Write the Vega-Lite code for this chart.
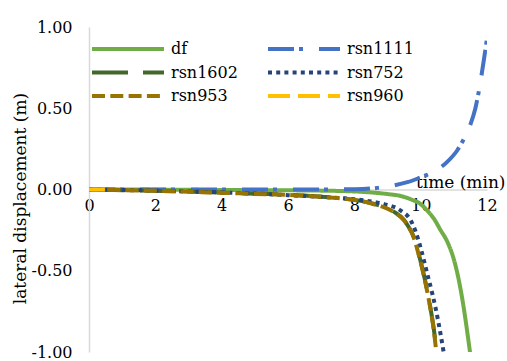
{
  "$schema": "https://vega.github.io/schema/vega-lite/v6.json",
  "width": 398,
  "height": 325,
  "autosize": {"type": "none"},
  "padding": {"left": 89, "top": 27, "right": 20, "bottom": 9},
  "background": "white",
  "config": {
    "view": {"stroke": null},
    "axis": {"labelFont": "DejaVu Serif", "titleFont": "DejaVu Serif", "labelColor": "black", "titleColor": "black", "titleFontWeight": "normal", "labelFontSize": 16, "titleFontSize": 17, "grid": false, "ticks": false, "tickSize": 0, "domainColor": "#D9D9D9", "domainWidth": 1.5},
    "legend": {"labelFont": "DejaVu Serif", "labelFontSize": 16, "labelColor": "black"}
  },
  "data": {"values": [
    {"s":"df","t":0,"v":0},{"s":"df","t":1,"v":0},{"s":"df","t":2,"v":-0.001},{"s":"df","t":3,"v":-0.002},{"s":"df","t":4,"v":-0.003},{"s":"df","t":5,"v":-0.004},{"s":"df","t":6,"v":-0.005},{"s":"df","t":7,"v":-0.007},{"s":"df","t":8,"v":-0.012},{"s":"df","t":8.5,"v":-0.018},{"s":"df","t":9,"v":-0.028},{"s":"df","t":9.4,"v":-0.04},{"s":"df","t":9.7,"v":-0.06},{"s":"df","t":10,"v":-0.09},{"s":"df","t":10.2,"v":-0.13},{"s":"df","t":10.4,"v":-0.18},{"s":"df","t":10.6,"v":-0.25},{"s":"df","t":10.8,"v":-0.32},{"s":"df","t":11,"v":-0.43},{"s":"df","t":11.1,"v":-0.51},{"s":"df","t":11.2,"v":-0.61},{"s":"df","t":11.3,"v":-0.73},{"s":"df","t":11.4,"v":-0.87},{"s":"df","t":11.5,"v":-1.02},
    {"s":"rsn1111","t":0,"v":0},{"s":"rsn1111","t":2,"v":0},{"s":"rsn1111","t":4,"v":0},{"s":"rsn1111","t":6,"v":0},{"s":"rsn1111","t":7,"v":0},{"s":"rsn1111","t":8,"v":0.002},{"s":"rsn1111","t":8.7,"v":0.01},{"s":"rsn1111","t":9.2,"v":0.025},{"s":"rsn1111","t":9.6,"v":0.045},{"s":"rsn1111","t":10,"v":0.075},{"s":"rsn1111","t":10.4,"v":0.11},{"s":"rsn1111","t":10.8,"v":0.17},{"s":"rsn1111","t":11.1,"v":0.24},{"s":"rsn1111","t":11.3,"v":0.31},{"s":"rsn1111","t":11.5,"v":0.4},{"s":"rsn1111","t":11.65,"v":0.5},{"s":"rsn1111","t":11.8,"v":0.66},{"s":"rsn1111","t":11.9,"v":0.79},{"s":"rsn1111","t":12,"v":0.93},
    {"s":"rsn1602","t":0,"v":0},{"s":"rsn1602","t":1,"v":-0.004},{"s":"rsn1602","t":2,"v":-0.008},{"s":"rsn1602","t":3,"v":-0.013},{"s":"rsn1602","t":4,"v":-0.019},{"s":"rsn1602","t":5,"v":-0.026},{"s":"rsn1602","t":6,"v":-0.032},{"s":"rsn1602","t":7,"v":-0.044},{"s":"rsn1602","t":7.5,"v":-0.051},{"s":"rsn1602","t":8,"v":-0.064},{"s":"rsn1602","t":8.5,"v":-0.084},{"s":"rsn1602","t":8.9,"v":-0.108},{"s":"rsn1602","t":9.2,"v":-0.138},{"s":"rsn1602","t":9.5,"v":-0.188},{"s":"rsn1602","t":9.6,"v":-0.218},{"s":"rsn1602","t":9.8,"v":-0.297},{"s":"rsn1602","t":9.9,"v":-0.366},{"s":"rsn1602","t":10.05,"v":-0.485},{"s":"rsn1602","t":10.2,"v":-0.625},{"s":"rsn1602","t":10.3,"v":-0.735},{"s":"rsn1602","t":10.4,"v":-0.865},{"s":"rsn1602","t":10.48,"v":-1.0},
    {"s":"rsn752","t":0,"v":0},{"s":"rsn752","t":1,"v":-0.003},{"s":"rsn752","t":2,"v":-0.007},{"s":"rsn752","t":3,"v":-0.012},{"s":"rsn752","t":4,"v":-0.018},{"s":"rsn752","t":5,"v":-0.025},{"s":"rsn752","t":6,"v":-0.035},{"s":"rsn752","t":7,"v":-0.045},{"s":"rsn752","t":8,"v":-0.06},{"s":"rsn752","t":8.4,"v":-0.07},{"s":"rsn752","t":8.9,"v":-0.09},{"s":"rsn752","t":9.4,"v":-0.13},{"s":"rsn752","t":9.7,"v":-0.19},{"s":"rsn752","t":9.85,"v":-0.26},{"s":"rsn752","t":10,"v":-0.36},{"s":"rsn752","t":10.2,"v":-0.52},{"s":"rsn752","t":10.35,"v":-0.64},{"s":"rsn752","t":10.45,"v":-0.73},{"s":"rsn752","t":10.6,"v":-0.89},{"s":"rsn752","t":10.7,"v":-1.01},
    {"s":"rsn953","t":0,"v":0},{"s":"rsn953","t":1,"v":-0.004},{"s":"rsn953","t":2,"v":-0.008},{"s":"rsn953","t":3,"v":-0.014},{"s":"rsn953","t":4,"v":-0.02},{"s":"rsn953","t":5,"v":-0.027},{"s":"rsn953","t":6,"v":-0.033},{"s":"rsn953","t":7,"v":-0.045},{"s":"rsn953","t":7.5,"v":-0.052},{"s":"rsn953","t":8,"v":-0.065},{"s":"rsn953","t":8.5,"v":-0.085},{"s":"rsn953","t":8.9,"v":-0.11},{"s":"rsn953","t":9.2,"v":-0.14},{"s":"rsn953","t":9.5,"v":-0.19},{"s":"rsn953","t":9.6,"v":-0.22},{"s":"rsn953","t":9.8,"v":-0.3},{"s":"rsn953","t":9.9,"v":-0.37},{"s":"rsn953","t":10.05,"v":-0.49},{"s":"rsn953","t":10.2,"v":-0.63},{"s":"rsn953","t":10.3,"v":-0.74},{"s":"rsn953","t":10.4,"v":-0.87},{"s":"rsn953","t":10.47,"v":-1.0},
    {"s":"rsn960","t":0,"v":0},{"s":"rsn960","t":0.25,"v":0},{"s":"rsn960","t":0.48,"v":0}
  ]},
  "mark": {"type": "line", "strokeWidth": 4, "strokeCap": "butt", "interpolate": "monotone", "clip": true},
  "encoding": {
    "x": {"field": "t", "type": "quantitative", "scale": {"domain": [0, 12], "nice": false},
      "axis": {"values": [0, 2, 4, 6, 8, 10, 12], "offset": -162.5, "labelPadding": 8, "labelBaseline": "top", "title": "time (min)", "titleAnchor": "end", "titleAlign": "right", "titleX": 416, "titleY": -2, "titleBaseline": "alphabetic", "labelFlush": false}},
    "y": {"field": "v", "type": "quantitative", "scale": {"domain": [-1, 1], "nice": false},
      "axis": {"values": [-1, -0.5, 0, 0.5, 1], "format": ".2f", "labelExpr": "replace(datum.label, '−', '-')", "labelPadding": 17, "title": "lateral displacement (m)", "titleAngle": -90, "titleX": -69, "titleY": 171, "titleAlign": "center", "titleBaseline": "middle"}},
    "color": {"field": "s", "type": "nominal",
      "scale": {"domain": ["df","rsn1602","rsn953","rsn1111","rsn752","rsn960"], "range": ["#70AD47","#43682B","#997300","#4472C4","#264478","#FFC000"]},
      "legend": {"title": null, "orient": "none", "legendX": 1, "legendY": 12, "columns": 2, "columnPadding": 28, "rowPadding": 3.5, "clipHeight": 20, "symbolType": "stroke", "symbolSize": 5184, "symbolStrokeWidth": 4, "labelOffset": 5, "padding": 0, "labelLimit": 300}},
    "strokeDash": {"field": "s", "type": "nominal",
      "scale": {"domain": ["df","rsn1602","rsn953","rsn1111","rsn752","rsn960"], "range": [[1,0],[36,15],[13,5.3],[26,5,4,16],[4,4.2],[22,8]]},
      "legend": null}
  }
}
